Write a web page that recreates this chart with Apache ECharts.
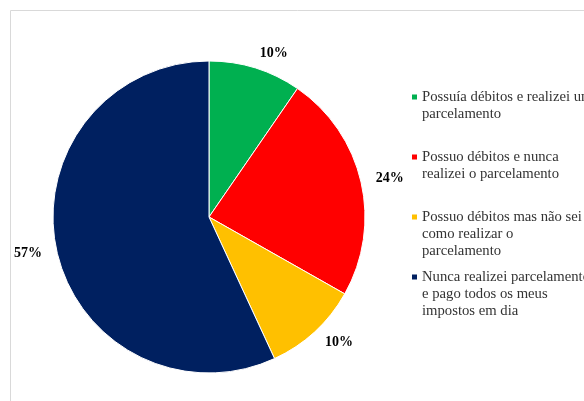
<!DOCTYPE html>
<html><head><meta charset="utf-8">
<script src="https://cdn.jsdelivr.net/npm/echarts@6/dist/echarts.min.js"></script>
<style>html,body{margin:0;padding:0;background:#fff}#c{width:584px;height:401px}</style>
</head><body><div id="c"></div>
<script>
const categories = [
  'Possuía débitos e realizei um parcelamento',
  'Possuo débitos e nunca realizei o parcelamento',
  'Possuo débitos mas não sei como realizar o parcelamento',
  'Nunca realizei parcelamento e pago todos os meus impostos em dia'
];
const legendLabels = [
  'Possuía débitos e realizei um\nparcelamento',
  'Possuo débitos e nunca\nrealizei o parcelamento',
  'Possuo débitos mas não sei\ncomo realizar o\nparcelamento',
  'Nunca realizei parcelamento\ne pago todos os meus\nimpostos em dia'
];
const values = [9.6, 23.6, 9.9, 56.9];
const colors = ['#00B050', '#FF0000', '#FFC000', '#002060'];
const legendIconY = [97, 157, 217, 277];

const LH = 17;
const SQ = 5;
const legends = categories.map((name, i) => {
  const n = legendLabels[i].split('\n').length;
  const H = SQ + (n - 1) * LH;
  const icon = 'path://M0,0H' + SQ + 'V' + SQ + 'H0Z' +
    'M0,' + (H - 0.01) + 'H0.01V' + H + 'H0Z';
  return {
    left: 412,
    top: legendIconY[i] - LH / 2,
    padding: 0,
    orient: 'vertical',
    icon: icon,
    itemWidth: SQ,
    itemHeight: H,
    itemStyle: { borderWidth: 0 },
    selectedMode: false,
    data: [name],
    formatter: function () { return legendLabels[i]; },
    textStyle: {
      fontFamily: 'Liberation Serif',
      fontSize: 14.7,
      color: '#333333',
      lineHeight: LH
    }
  };
});

const chart = echarts.init(document.getElementById('c'), null, { renderer: 'canvas' });
chart.setOption({
  animation: false,
  color: colors,
  graphic: [{
    type: 'rect',
    shape: { x: 10.5, y: 10.5, width: 700, height: 500 },
    style: { fill: 'none', stroke: '#d9d9d9', lineWidth: 1 },
    silent: true, z: -10
  }],
  legend: legends,
  series: [{
    type: 'pie',
    center: [209, 217],
    radius: [0, 156],
    startAngle: 90,
    clockwise: true,
    percentPrecision: 2,
    itemStyle: { borderColor: '#ffffff', borderWidth: 1 },
    label: {
      show: true,
      position: 'outside',
      formatter: function (p) { return Math.round(p.percent) + '%'; },
      fontFamily: 'Liberation Serif',
      fontWeight: 'bold',
      fontSize: 14,
      color: '#000000',
      distanceToLabelLine: 0
    },
    labelLine: { show: false, length: 15, length2: 0 },
    data: categories.map((c, i) => ({ name: c, value: values[i] }))
  }]
});
</script>
</body></html>
